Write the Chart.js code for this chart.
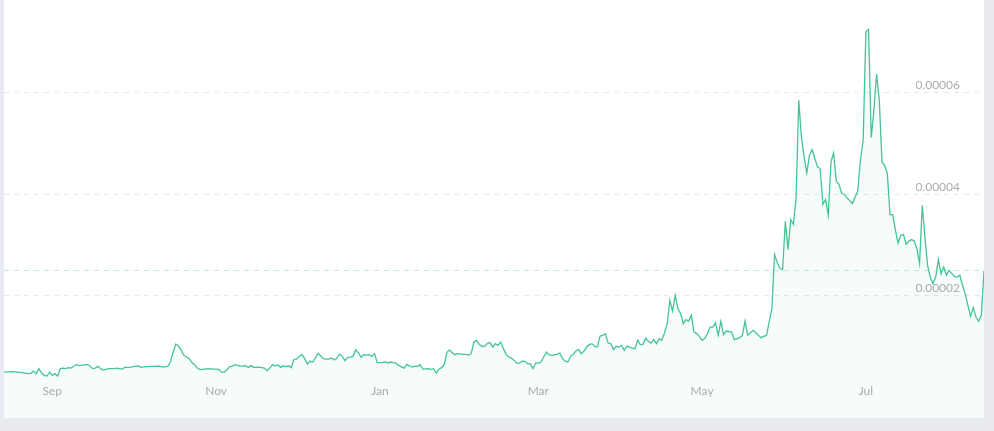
<!DOCTYPE html>
<html>
<head>
<meta charset="utf-8">
<script src="https://cdn.jsdelivr.net/npm/chart.js@4"></script>
<style>
  html, body { margin: 0; padding: 0; background: #e9eaef; }
  #panel { position: absolute; left: 4px; top: 0; width: 980px; height: 418px; background: #fff; }
  canvas { display: block; }
</style>
</head>
<body>
<div id="panel"><canvas id="chart" width="980" height="418"></canvas></div>
<script>
// days counted from the first point (mid August), one year of prices
const days = [
  0, 3, 6, 9, 10, 11, 12, 13, 14, 15, 16, 17, 18, 19, 20, 21, 22, 23, 24, 25,
  26, 27, 28, 29, 31, 32, 33, 34, 35, 36, 37, 38, 39, 41, 42, 44, 45, 47, 48, 50,
  51, 53, 54, 56, 58, 59, 61, 62, 63, 64, 65, 66, 67, 68, 69, 70, 71, 72, 73, 74,
  76, 78, 80, 81, 82, 83, 84, 85, 86, 88, 90, 91, 92, 93, 95, 97, 98, 99, 100, 101,
  102, 103, 104, 105, 106, 107, 108, 109, 110, 111, 112, 113, 114, 115, 116, 117, 118, 119, 120, 121,
  122, 123, 124, 125, 126, 127, 128, 129, 130, 131, 132, 133, 134, 135, 136, 137, 138, 139, 141, 142,
  143, 144, 145, 146, 147, 149, 150, 152, 153, 154, 155, 156, 158, 159, 160, 161, 162, 163, 164, 165,
  166, 167, 168, 169, 171, 172, 173, 174, 175, 176, 177, 178, 179, 180, 181, 182, 183, 184, 185, 186,
  187, 188, 189, 190, 191, 192, 193, 194, 195, 196, 197, 198, 199, 200, 201, 202, 203, 204, 206, 207,
  208, 209, 210, 211, 212, 213, 214, 215, 216, 217, 218, 219, 220, 221, 222, 223, 224, 225, 226, 227,
  228, 229, 230, 231, 232, 233, 234, 235, 236, 237, 238, 239, 240, 241, 242, 243, 244, 245, 246, 247,
  248, 249, 250, 251, 252, 253, 254, 255, 256, 257, 258, 259, 260, 261, 262, 263, 264, 265, 266, 267,
  268, 269, 271, 272, 274, 275, 276, 277, 279, 281, 282, 283, 284, 286, 287, 288, 289, 290, 291, 292,
  293, 294, 295, 296, 297, 298, 299, 300, 301, 302, 303, 304, 305, 306, 307, 308, 309, 310, 311, 312,
  313, 314, 316, 317, 318, 319, 320, 321, 322, 323, 324, 325, 326, 327, 328, 329, 330, 331, 332, 333,
  334, 335, 336, 337, 338, 339, 340, 341, 342, 343, 344, 345, 346, 347, 348, 349, 350, 351, 352, 353,
  354, 355, 356, 357, 358, 359, 360, 361, 362, 363, 364, 365
];

// price x 1e6
const pricesE6 = [
  4.95, 5.02, 4.89, 4.63, 4.69, 5.14, 4.63, 5.62, 4.75, 4.30, 4.16, 4.95, 4.30, 4.63, 4.16, 5.62, 5.73, 5.62, 5.81, 5.73,
  6.13, 6.46, 6.21, 6.33, 6.46, 6.13, 5.62, 5.73, 6.07, 5.62, 5.34, 5.48, 5.62, 5.62, 5.73, 5.54, 5.87, 5.87, 6.01, 6.13,
  5.87, 6.01, 6.07, 6.07, 6.13, 5.93, 6.07, 6.92, 8.89, 10.46, 10.07, 9.22, 8.24, 7.90, 7.59, 6.80, 6.40, 5.73, 5.42, 5.48,
  5.62, 5.54, 5.48, 4.95, 4.95, 5.34, 6.01, 6.13, 6.40, 6.13, 6.21, 5.87, 6.21, 5.87, 5.93, 5.73, 5.22, 5.73, 6.40, 6.13,
  6.40, 5.87, 6.13, 6.01, 6.13, 5.81, 7.45, 7.51, 8.10, 8.37, 7.59, 6.52, 7.11, 6.92, 7.78, 8.63, 8.10, 7.59, 7.51, 7.51,
  7.70, 7.31, 7.65, 8.49, 8.04, 7.19, 7.84, 7.90, 8.04, 9.36, 8.69, 7.90, 8.37, 8.30, 8.37, 8.04, 8.57, 6.80, 6.80, 7.00,
  6.72, 6.92, 6.80, 6.72, 6.27, 5.73, 6.46, 5.93, 6.13, 6.07, 6.40, 5.54, 5.62, 5.48, 5.62, 4.75, 5.54, 5.81, 6.46, 8.89,
  9.28, 8.69, 8.37, 8.57, 8.43, 8.43, 8.30, 8.57, 10.86, 11.19, 10.40, 10.01, 10.01, 10.54, 10.74, 9.87, 10.54, 10.21, 10.86, 9.56,
  8.43, 7.90, 7.70, 7.25, 6.72, 6.72, 7.11, 7.05, 6.60, 6.60, 5.62, 6.72, 6.72, 6.92, 7.90, 8.89, 8.37, 8.24, 8.43, 8.69,
  7.59, 7.11, 6.92, 8.04, 8.43, 9.08, 9.42, 8.57, 9.08, 9.87, 10.34, 10.54, 10.01, 9.87, 12.04, 12.18, 12.51, 10.66, 10.54, 9.36,
  10.01, 9.87, 10.21, 9.22, 10.07, 9.87, 9.67, 9.56, 11.19, 10.34, 10.40, 11.65, 10.99, 10.66, 11.33, 10.54, 11.53, 11.19, 12.63, 14.48,
  19.07, 16.97, 20.06, 17.44, 16.45, 14.48, 15.27, 14.99, 16.12, 12.83, 12.51, 11.98, 11.19, 11.53, 12.51, 13.81, 13.81, 14.68, 12.18, 14.94,
  12.32, 13.02, 12.83, 11.33, 11.72, 12.18, 14.99, 12.18, 13.16, 12.18, 11.72, 11.98, 12.18, 17.50, 28.08, 26.50, 25.32, 25.12, 34.64, 29.06,
  34.97, 34.05, 39.11, 58.48, 51.25, 47.31, 44.16, 47.64, 48.77, 46.99, 45.34, 45.02, 37.93, 38.92, 35.82, 46.32, 48.10, 42.52, 41.93, 40.10,
  39.96, 39.23, 38.13, 39.43, 40.61, 46.80, 50.60, 71.94, 72.41, 51.13, 56.51, 63.60, 58.48, 46.32, 45.67, 44.04, 35.96, 35.96, 32.87, 30.36,
  31.88, 32.02, 30.11, 30.70, 31.03, 30.76, 29.26, 26.30, 37.79, 31.55, 25.97, 23.55, 22.36, 23.66, 27.09, 24.33, 25.63, 24.00, 24.98, 24.33,
  23.80, 23.66, 24.00, 22.03, 20.39, 18.09, 15.92, 17.64, 15.78, 14.94, 16.12, 24.93
];

// month starts shown on the x axis
const monthDays = [18, 79, 140, 199, 260, 321];
const monthLabels = ['Sep', 'Nov', 'Jan', 'Mar', 'May', 'Jul'];

const yTicks = [0.00002, 0.00004, 0.00006];

const green = '#45c594';
const labelColor = '#acacb0';
const labelFont = '12px Lato';

const points = days.map((d, i) => ({ x: d, y: pricesE6[i] * 1e-6 }));
const last = points[points.length - 1];

// axis labels are drawn inside the plot: months near the bottom, prices above the grid lines
const insideLabels = {
    id: 'insideLabels',
    afterDatasetsDraw(chart) {
        const { ctx, chartArea, scales } = chart;
        ctx.save();
        ctx.font = labelFont;
        ctx.fillStyle = labelColor;
        ctx.textBaseline = 'middle';
        ctx.textAlign = 'center';
        monthDays.forEach((d, i) => {
            ctx.fillText(monthLabels[i], scales.x.getPixelForValue(d), chartArea.bottom - 27);
        });
        ctx.textAlign = 'right';
        yTicks.forEach(v => {
            ctx.fillText(v.toFixed(5), chartArea.right - 24, scales.y.getPixelForValue(v) - 7);
        });
        ctx.restore();
    }
};

new Chart(document.getElementById('chart'), {
    type: 'line',
    data: {
        datasets: [
            {
                data: points,
                borderColor: green,
                borderWidth: 1.3,
                backgroundColor: 'rgba(69, 197, 148, 0.055)',
                fill: 'start',
                pointRadius: 0,
                tension: 0,
                order: 1
            },
            {
                data: [{ x: days[0], y: last.y }, { x: days[days.length - 1], y: last.y }],
                borderColor: 'rgba(69, 197, 148, 0.35)',
                borderWidth: 1,
                borderDash: [5, 5],
                pointRadius: 0,
                fill: false,
                order: 2
            }
        ]
    },
    options: {
        responsive: false,
        animation: false,
        devicePixelRatio: 1,
        layout: { padding: 0 },
        plugins: { legend: { display: false }, tooltip: { enabled: false } },
        scales: {
            x: {
                type: 'linear',
                display: false,
                min: 0,
                max: 365
            },
            y: {
                position: 'right',
                min: -0.0000041,
                max: 0.0000782,
                afterBuildTicks: (scale) => { scale.ticks = yTicks.map(v => ({ value: v })); },
                afterFit: (scale) => { scale.width = 0; },
                grid: { color: '#e6e7ea', drawTicks: false },
                border: { display: false, dash: [5, 5] },
                ticks: { display: false }
            }
        }
    },
    plugins: [insideLabels]
});
</script>
</body>
</html>
